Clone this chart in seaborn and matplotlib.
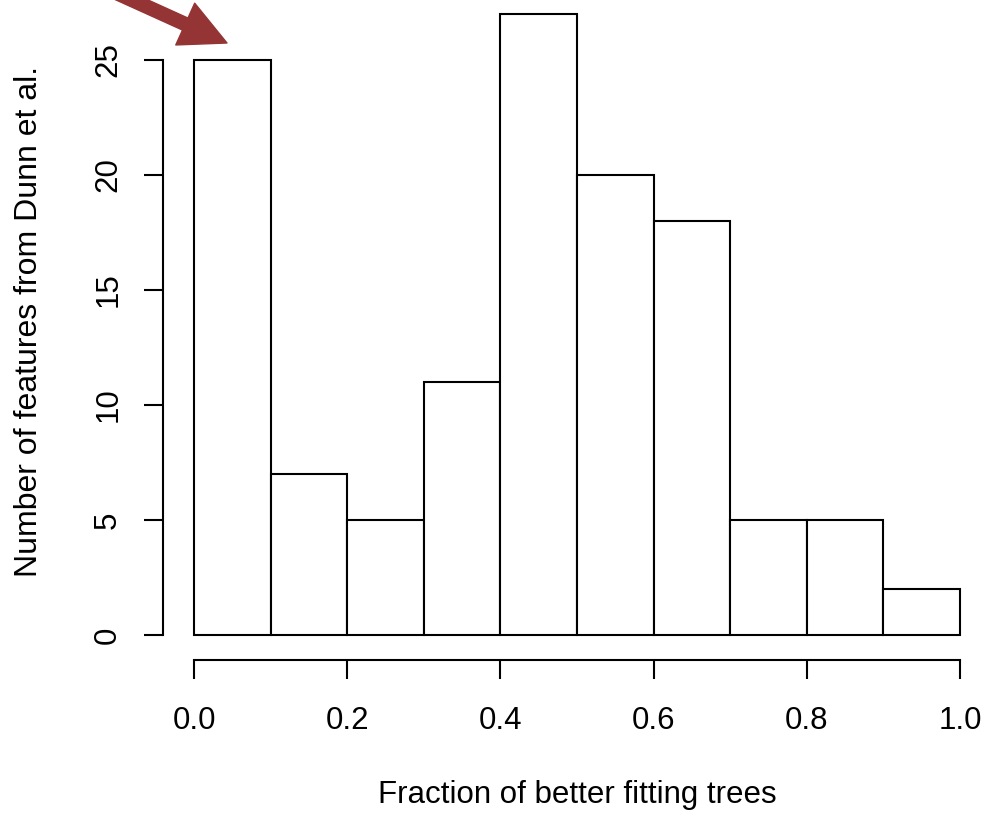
import matplotlib
matplotlib.use("Agg")
import matplotlib.pyplot as plt
import seaborn as sns

# histogram bins and counts
bin_edges = [0.0, 0.1, 0.2, 0.3, 0.4, 0.5, 0.6, 0.7, 0.8, 0.9, 1.0]
bin_centers = [0.05, 0.15, 0.25, 0.35, 0.45, 0.55, 0.65, 0.75, 0.85, 0.95]
counts = [25, 7, 5, 11, 27, 20, 18, 5, 5, 2]
x_ticks = [0.0, 0.2, 0.4, 0.6, 0.8, 1.0]
x_tick_labels = ["0.0", "0.2", "0.4", "0.6", "0.8", "1.0"]
y_ticks = [0, 5, 10, 15, 20, 25]

plt.rcParams["font.family"] = ["Liberation Sans", "DejaVu Sans"]

fig = plt.figure(figsize=(9.85, 8.19), dpi=100)
ax = fig.add_axes([0.1659, 0.1944, 0.8398, 0.8188])

sns.histplot(x=bin_centers, weights=counts, bins=bin_edges, ax=ax,
             color="white", edgecolor="black", linewidth=1.5, alpha=1)

# R-like axis extents (4% padding)
ax.set_xlim(-0.04, 1.04)
ax.set_ylim(-1.08, 28.08)

for side in ["top", "right"]:
    ax.spines[side].set_visible(False)
ax.spines["left"].set_bounds(0, 25)
ax.spines["bottom"].set_bounds(0, 1)
for side in ["left", "bottom"]:
    ax.spines[side].set_linewidth(1.5)

ax.set_xticks(x_ticks)
ax.set_xticklabels(x_tick_labels)
ax.set_yticks(y_ticks)
ax.set_yticklabels([str(v) for v in y_ticks], rotation=90, va="center")
ax.tick_params(axis="both", length=14, width=1.5, labelsize=22.5)
ax.tick_params(axis="x", pad=19)
ax.tick_params(axis="y", pad=15)

ax.set_xlabel("Fraction of better fitting trees", fontsize=22.5, va="center")
ax.set_ylabel("Number of features from Dunn et al.", fontsize=23, va="center")
ax.xaxis.set_label_coords((577 - 163.4) / 827.2, (659.8 - 795) / 670.6)
ax.yaxis.set_label_coords((29 - 163.4) / 827.2, (659.8 - 322) / 670.6)

# red arrow pointing at the first bar
ax.annotate("", xy=(0.043, 25.74), xytext=(-0.218, 29.68),
            annotation_clip=False,
            arrowprops=dict(arrowstyle="simple,head_length=3.3,head_width=3.3,tail_width=0.95",
                            mutation_scale=10, color="#943434",
                            shrinkA=0, shrinkB=0))

fig.savefig("out.png", dpi=100)
